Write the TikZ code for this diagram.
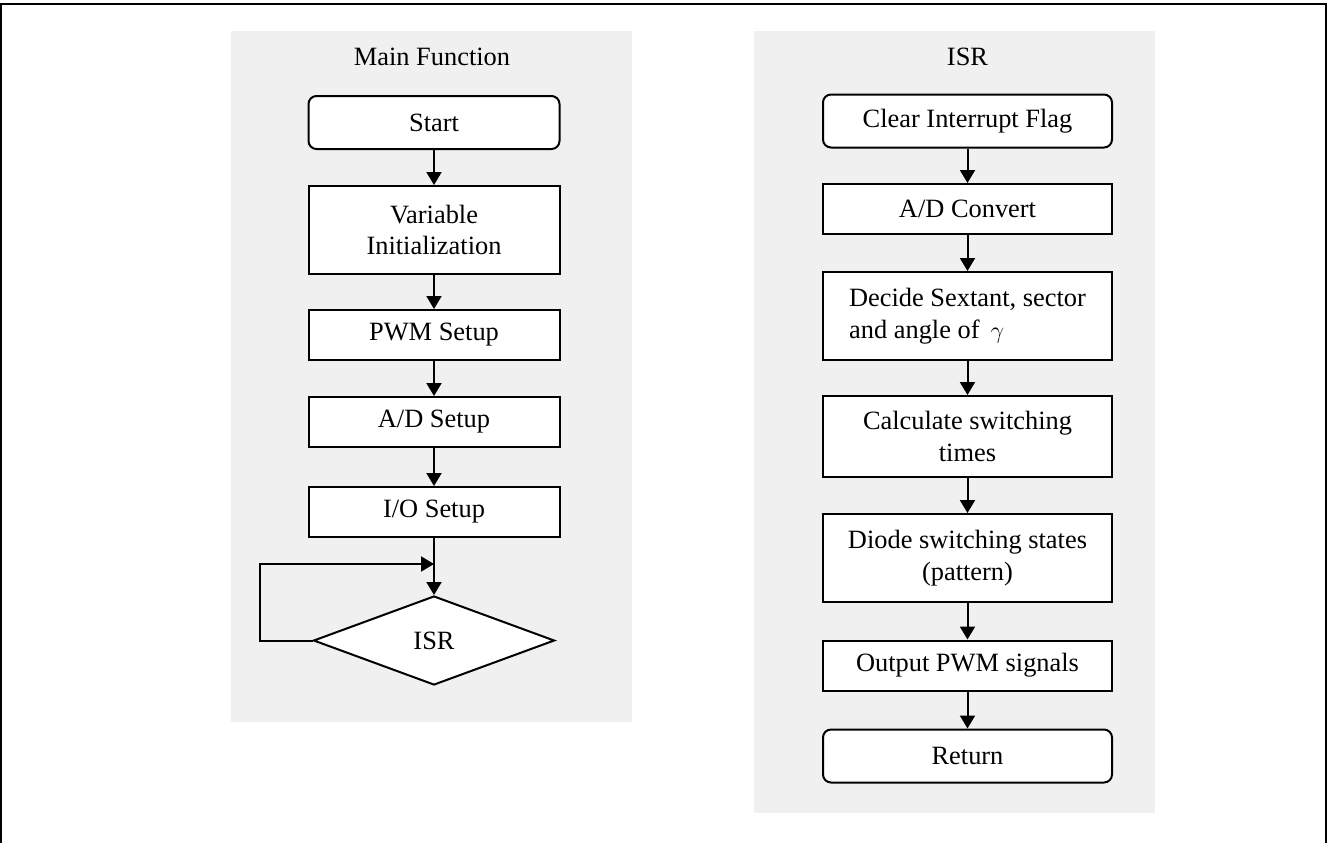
\documentclass[tikz,border=0pt]{standalone}
\usepackage{fontspec}
\setmainfont{Liberation Serif}
\usetikzlibrary{shapes.geometric,arrows.meta}
\definecolor{painelcor}{RGB}{240,240,240}

\begin{document}
\begin{tikzpicture}[x=0.5pt, y=-0.5pt,
    every node/.style={font=\fontsize{13.2}{15.8}\selectfont},
    caixa/.style={rectangle, draw, fill=white, line width=1pt, inner sep=0pt, align=center, minimum height=25pt},
    term/.style={caixa, rounded corners=4pt, minimum height=26.5pt},
    decisao/.style={diamond, draw, fill=white, line width=1pt, inner sep=0pt, minimum width=120.5pt, minimum height=44.5pt},
    seta/.style={line width=1pt, -{Triangle[length=6.5pt,width=7.5pt]}}]
  \useasboundingbox (0,0) rectangle (1328,843);

  % 1. Moldura e paineis de fundo
  \draw[line width=1.25pt] (1,843) -- (1,4) -- (1326,4) -- (1326,843);
  \fill[painelcor] (231,31) rectangle (632,722);
  \fill[painelcor] (754,31) rectangle (1155,813);
  \node (tmain) at (432,57) {Main Function};
  \node (tisr) at (967.5,57) {ISR};

  % 2. Funcao principal
  \node[term, minimum width=125.5pt] (m0) at (434,122.5) {Start};
  \node[caixa, minimum width=125.5pt, minimum height=44pt] (m1) at (434,230) {Variable\\Initialization};
  \node[caixa, minimum width=125.5pt] (m2) at (434,335) {PWM Setup};
  \node[caixa, minimum width=125.5pt] (m3) at (434,422) {A/D Setup};
  \node[caixa, minimum width=125.5pt] (m4) at (434,512) {I/O Setup};
  \node[decisao] (isr) at (434,640.5) {ISR};
  \coordinate (volta) at (434,564);   % ponto onde o laco volta

  \foreach \i in {0,...,3} {
    \pgfmathtruncatemacro{\j}{\i+1}
    \draw[seta] (m\i) -- (m\j);
  }
  \draw[seta] (m4) -- (isr);
  \draw[seta] (isr.west) -- ++(-53,0) |- (volta);

  % 3. Rotina de interrupcao
  \node[term, minimum width=144.5pt] (r0) at (967.5,121) {Clear Interrupt Flag};
  \node[caixa, minimum width=144.5pt] (r1) at (967.5,209) {A/D Convert};
  \node[caixa, minimum width=144.5pt, minimum height=44pt, align=left] (r2) at (967.5,316) {Decide Sextant, sector\\and angle of \,$\gamma$};
  \node[caixa, minimum width=144.5pt, minimum height=40.5pt] (r3) at (967.5,436.5) {Calculate switching\\times};
  \node[caixa, minimum width=144.5pt, minimum height=44pt] (r4) at (967.5,558) {Diode switching states\\(pattern)};
  \node[caixa, minimum width=144.5pt] (r5) at (967.5,665.5) {Output PWM signals};
  \node[term, minimum width=144.5pt] (r6) at (967.5,756) {Return};

  \foreach \i in {0,...,5} {
    \pgfmathtruncatemacro{\j}{\i+1}
    \draw[seta] (r\i) -- (r\j);   % liga cada passo ao seguinte
  }
\end{tikzpicture}
\end{document}
